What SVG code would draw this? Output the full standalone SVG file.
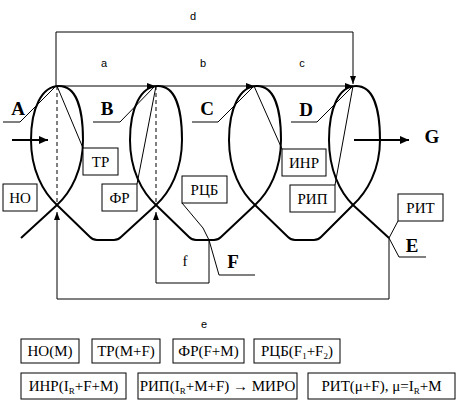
<svg xmlns="http://www.w3.org/2000/svg" width="462" height="408" viewBox="0 0 462 408">
<defs>
<marker id="ah" markerUnits="userSpaceOnUse" markerWidth="9" markerHeight="7" refX="8" refY="3" orient="auto"><path d="M0,0 L8,3 L0,6 z" fill="#000"/></marker>
<marker id="ahb" markerUnits="userSpaceOnUse" markerWidth="10" markerHeight="9" refX="9" refY="4" orient="auto"><path d="M0,0 L9,4 L0,8 z" fill="#000"/></marker>
</defs>
<style>
.thin{fill:none;stroke:#000;stroke-width:1}
.thick{fill:none;stroke:#000;stroke-width:2}
.dash{fill:none;stroke:#000;stroke-width:1;stroke-dasharray:4,3}
.box{fill:#fff;stroke:#000;stroke-width:1}
.lbl{font-family:"Liberation Serif","Times New Roman",serif;font-size:15px;text-anchor:middle;fill:#000}
.blbl{font-family:"Liberation Serif","Times New Roman",serif;font-size:15px;text-anchor:middle;fill:#000}
.big{font-family:"Liberation Serif","Times New Roman",serif;font-size:19px;font-weight:bold;text-anchor:middle;fill:#000}
.sm{font-family:"Liberation Sans",Arial,sans-serif;font-size:11px;text-anchor:middle;fill:#000}
.sub{font-size:9px}
</style>
<rect width="462" height="408" fill="#fff"/>

<g id="curve">
<path class="thick" d="M21,238 L57,205 C71,192 83,170 83,140 C83,108 76,86 59,86 C42,86 31,108 31,140 C31,170 43,192 57,205 L90,237 Q93,240 97,240 L114,240 Q118,240 121,237 L156,205 C170,192 182,170 182,140 C182,108 175,86 158,86 C141,86 130,108 130,140 C130,170 142,192 156,205 L189,237 Q192,240 196,240 L214,240 Q218,240 221,237 L255,205 C269,192 281,170 281,140 C281,108 274,86 257,86 C240,86 229,108 229,140 C229,170 241,192 255,205 L288,237 Q291,240 295,240 L314,240 Q318,240 321,237 L353,205 C367,192 380,170 380,140 C380,108 373,86 356,86 C339,86 329,108 329,140 C329,170 340,192 353,205 L389,238"/>
</g>

<g id="connectors">
<path class="thin" d="M56,86 V32 H353 V84" marker-end="url(#ah)"/>
<line class="thin" x1="56" y1="86" x2="155" y2="86" marker-end="url(#ah)"/>
<line class="thin" x1="155" y1="86" x2="254" y2="86" marker-end="url(#ah)"/>
<line class="thin" x1="254" y1="86" x2="353" y2="86" marker-end="url(#ah)"/>
<path class="thin" d="M389,238 V299 H57 V212" marker-end="url(#ah)"/>
<path class="thin" d="M209,240 V283 H156 V212" marker-end="url(#ah)"/>
<line class="dash" x1="57" y1="86" x2="57" y2="205"/>
<line class="dash" x1="156" y1="86" x2="156" y2="205"/>
<line class="thin" x1="57" y1="86" x2="83" y2="148"/>
<line class="thin" x1="156" y1="86" x2="137" y2="184"/>
<line class="thin" x1="254" y1="86" x2="282" y2="149"/>
<line class="thin" x1="353" y1="86" x2="335" y2="185"/>
<path class="thin" d="M3,122 H20 L56,86"/>
<path class="thin" d="M93,122 H120 L155,86"/>
<path class="thin" d="M192,122 H218 L254,86"/>
<path class="thin" d="M291,122 H317 L353,86"/>
<path class="thin" d="M182,203 L203,228 L209,240 L219,275 H255"/>
<path class="thin" d="M398,221 L389,238 L399,257 H426"/>
<line class="thick" x1="12" y1="140" x2="48" y2="140" marker-end="url(#ahb)"/>
<line class="thick" x1="354" y1="140" x2="409" y2="140" marker-end="url(#ahb)"/>
</g>

<g id="labels">
<text class="sm" x="193" y="20">d</text>
<text class="sm" x="104" y="67">a</text>
<text class="sm" x="203" y="67">b</text>
<text class="sm" x="302" y="67">c</text>
<text class="sm" x="204" y="328">e</text>
<text class="lbl" x="185" y="266">f</text>
<text class="big" x="18" y="115">A</text>
<text class="big" x="107" y="115">B</text>
<text class="big" x="207" y="115">C</text>
<text class="big" x="306" y="116">D</text>
<text class="big" x="412" y="252">E</text>
<text class="big" x="233" y="268">F</text>
<text class="big" x="432" y="143">G</text>
</g>

<g id="node-tr"><rect class="box" x="83" y="148" width="35" height="27"/><text class="lbl" x="100.5" y="167">ТР</text></g>
<g id="node-no"><rect class="box" x="3" y="184" width="34" height="27"/><text class="lbl" x="20" y="203">НО</text></g>
<g id="node-fr"><rect class="box" x="102" y="184" width="35" height="27"/><text class="lbl" x="119.5" y="203">ФР</text></g>
<g id="node-rcb"><rect class="box" x="182" y="176" width="45" height="27"/><text class="lbl" x="204.5" y="195">РЦБ</text></g>
<g id="node-inr"><rect class="box" x="282" y="149" width="44" height="27"/><text class="lbl" x="304" y="168">ИНР</text></g>
<g id="node-rip"><rect class="box" x="290" y="185" width="45" height="27"/><text class="lbl" x="312.5" y="204">РИП</text></g>
<g id="node-rit"><rect class="box" x="398" y="194" width="45" height="27"/><text class="lbl" x="420.5" y="213">РИТ</text></g>

<g id="legend-no"><rect class="box" x="21" y="339" width="58" height="24"/><text class="blbl" x="50" y="356">НО(М)</text></g>
<g id="legend-tr"><rect class="box" x="92" y="339" width="68" height="24"/><text class="blbl" x="126" y="356">ТР(М+F)</text></g>
<g id="legend-fr"><rect class="box" x="173" y="339" width="71" height="24"/><text class="blbl" x="208.5" y="356">ФР(F+M)</text></g>
<g id="legend-rcb"><rect class="box" x="254" y="339" width="86" height="24"/><text class="blbl" x="297" y="356">РЦБ(F<tspan class="sub" dy="3">1</tspan><tspan dy="-3">+F</tspan><tspan class="sub" dy="3">2</tspan><tspan dy="-3">)</tspan></text></g>
<g id="legend-inr"><rect class="box" x="21" y="373" width="105" height="26"/><text class="blbl" x="73.5" y="391">ИНР(I<tspan class="sub" dy="3">R</tspan><tspan dy="-3">+F+M)</tspan></text></g>
<g id="legend-rip"><rect class="box" x="138" y="373" width="159" height="26"/><text class="blbl" x="217.5" y="391">РИП(I<tspan class="sub" dy="3">R</tspan><tspan dy="-3">+M+F) → МИРО</tspan></text></g>
<g id="legend-rit"><rect class="box" x="308" y="373" width="147" height="26"/><text class="blbl" x="381.5" y="391">РИТ(μ+F), μ=I<tspan class="sub" dy="3">R</tspan><tspan dy="-3">+M</tspan></text></g>
</svg>
